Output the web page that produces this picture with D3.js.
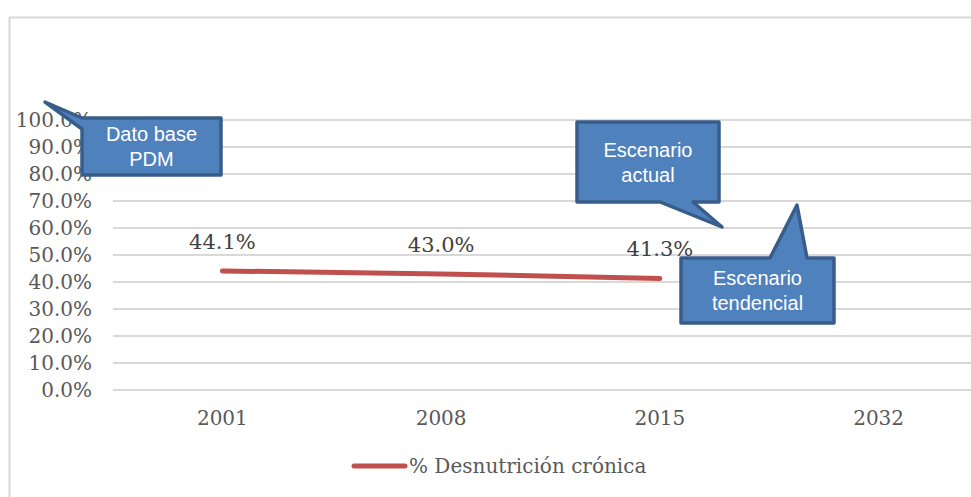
<!DOCTYPE html>
<html>
<head>
<meta charset="utf-8">
<script src="https://cdn.jsdelivr.net/npm/d3@7"></script>
<style>
  body { margin: 0; background: #fff; }
  svg { display: block; }
</style>
</head>
<body>
<svg id="svg1"></svg>
<script>
// data
const years = ["2001", "2008", "2015", "2032"];
const desnutricion = [44.1, 43.0, 41.3, null];
const yTicks = [0, 10, 20, 30, 40, 50, 60, 70, 80, 90, 100];
const seriesName = "% Desnutrición crónica";

// callouts: text lines, box and pointer tip (pixel layout)
const callouts = [
  {lines: ["Dato base", "PDM"], box: [82, 118, 139, 57], tip: [45, 102], base: [[82, 118], [82, 129]]},
  {lines: ["Escenario", "actual"], box: [577, 122, 142, 80], tip: [722, 227], base: [[660, 202], [693, 202]]},
  {lines: ["Escenario", "tendencial"], box: [681, 258, 153, 65], tip: [797, 205], base: [[770, 258], [807, 258]]}
];

const width = 971, height = 497;
const margin = {top: 120, right: -17, bottom: 107, left: 113};
const innerW = width - margin.left - margin.right;
const innerH = height - margin.top - margin.bottom;

const svg = d3.select('#svg1')
    .attr('width', width)
    .attr('height', height);

// chart border
svg.append("rect")
    .attr("x", 9.5).attr("y", 17.5)
    .attr("width", 1000).attr("height", 600)
    .attr("fill", "none")
    .attr("stroke", "#d9d9d9")
    .attr("stroke-width", 2);

const g = svg.append('g')
    .attr('transform', 'translate(' + margin.left + ',' + margin.top + ')');

const x = d3.scaleBand().domain(years).range([0, innerW]);
const y = d3.scaleLinear().domain([0, 100]).range([innerH, 0]);

// gridlines
g.selectAll("line.grid")
    .data(yTicks)
    .enter()
    .append("line")
    .attr("class", "grid")
    .attr("x1", 0).attr("x2", innerW)
    .attr("y1", d => y(d)).attr("y2", d => y(d))
    .attr("stroke", "#d9d9d9")
    .attr("stroke-width", 2);

const serif = "'DejaVu Serif', serif";
const fs = 20;

// y axis labels
const yAxis = g.append("g")
    .attr("transform", "translate(-21,0)")
    .call(d3.axisLeft(y).tickValues(yTicks).tickSize(0).tickPadding(0)
      .tickFormat(d => d.toFixed(1) + "%"));
yAxis.select(".domain").remove();
yAxis.selectAll("text")
    .attr("font-family", serif)
    .attr("font-size", fs)
    .attr("fill", "#595959");

// x axis labels
const xAxis = g.append("g")
    .attr("transform", "translate(0," + innerH + ")")
    .call(d3.axisBottom(x).tickSize(0).tickPadding(21));
xAxis.select(".domain").remove();
xAxis.selectAll("text")
    .attr("font-family", serif)
    .attr("font-size", fs)
    .attr("fill", "#595959");

// series line
const pts = years.map((yr, i) => ({yr: yr, v: desnutricion[i]})).filter(d => d.v != null);
const line = d3.line()
    .x(d => x(d.yr) + x.bandwidth() / 2)
    .y(d => y(d.v));
g.append("path")
    .datum(pts)
    .attr("d", line)
    .attr("fill", "none")
    .attr("stroke", "#C0504D")
    .attr("stroke-width", 5)
    .attr("stroke-linecap", "round");

// data labels
g.selectAll("text.lbl")
    .data(pts)
    .enter()
    .append("text")
    .attr("class", "lbl")
    .attr("x", d => x(d.yr) + x.bandwidth() / 2)
    .attr("y", d => y(d.v) - 22)
    .attr("text-anchor", "middle")
    .attr("font-family", serif)
    .attr("font-size", 21)
    .attr("fill", "#404040")
    .text(d => d.v.toFixed(1) + "%");

// legend
const legend = svg.append("g").attr("transform", "translate(352,466)");
legend.append("line")
    .attr("x1", 2).attr("x2", 53)
    .attr("stroke", "#C0504D")
    .attr("stroke-width", 5)
    .attr("stroke-linecap", "round");
legend.append("text")
    .attr("x", 57).attr("dy", "0.35em")
    .attr("font-family", serif)
    .attr("font-size", fs)
    .attr("fill", "#595959")
    .text(seriesName);

// callouts
const co = svg.selectAll("g.callout")
    .data(callouts)
    .enter()
    .append("g")
    .attr("class", "callout");
co.append("path")
    .attr("d", d => {
      const [bx, by, bw, bh] = d.box;
      const b0 = d.base[0], b1 = d.base[1];
      let pts;
      if (b0[0] === bx && b1[0] === bx) {
        pts = [d.tip, [bx, by], [bx + bw, by], [bx + bw, by + bh], [bx, by + bh], b1];
      } else if (b0[1] === by + bh) {
        pts = [[bx, by], [bx + bw, by], [bx + bw, by + bh], b1, d.tip, b0, [bx, by + bh]];
      } else {
        pts = [[bx, by], b0, d.tip, b1, [bx + bw, by], [bx + bw, by + bh], [bx, by + bh]];
      }
      return "M" + pts.map(q => q.join(",")).join("L") + "Z";
    })
    .attr("fill", "#4F81BD")
    .attr("stroke", "#385D8A")
    .attr("stroke-width", 3.5)
    .attr("stroke-linejoin", "round");
co.each(function(d) {
  const [bx, by, bw, bh] = d.box;
  const t = d3.select(this).append("text")
      .attr("text-anchor", "middle")
      .attr("font-family", "'Liberation Sans', Arial, sans-serif")
      .attr("font-size", 20)
      .attr("fill", "#ffffff");
  const lh = 25;
  const cy = by + bh / 2 - (d.lines.length - 1) * lh / 2;
  d.lines.forEach((s, i) => {
    t.append("tspan")
        .attr("x", bx + bw / 2)
        .attr("y", cy + i * lh)
        .attr("dy", "0.35em")
        .text(s);
  });
});
</script>
</body>
</html>
